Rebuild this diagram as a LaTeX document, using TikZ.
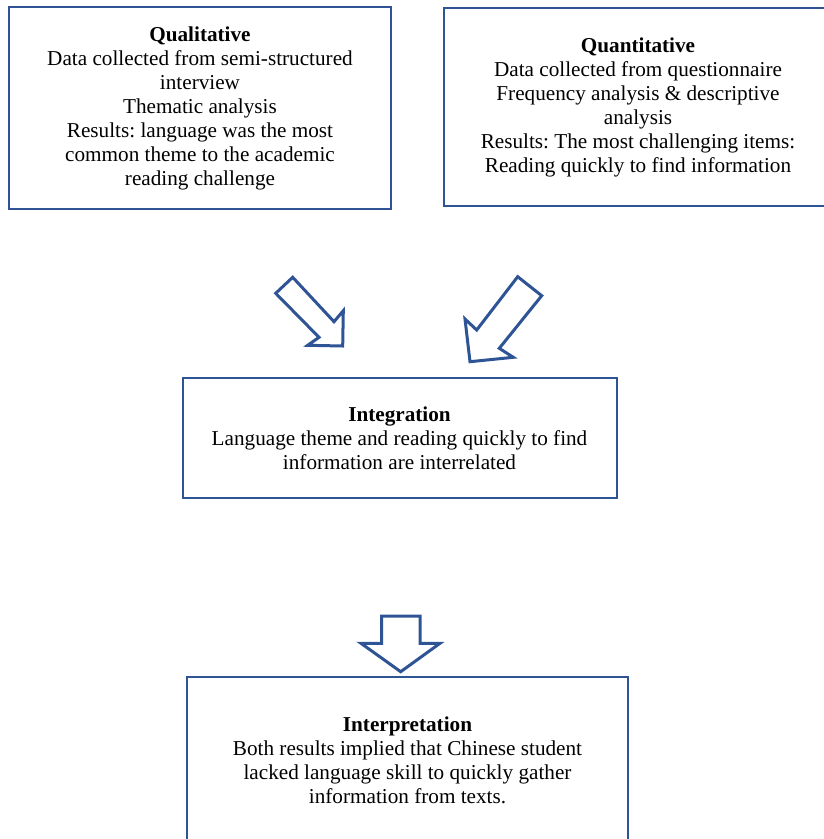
\documentclass[tikz,border=0pt]{standalone}
\usepackage{fontspec}
\setmainfont{Liberation Serif}
\usetikzlibrary{positioning}
\definecolor{boxblue}{RGB}{47,84,150}
\frenchspacing

\begin{document}
\begin{tikzpicture}[x=1pt, y=-1pt,
  box/.style={draw=boxblue, line width=2pt, align=center, inner sep=0pt,
              font=\fontsize{21.2}{24}\selectfont},
  fat/.style={draw=boxblue, line width=3pt, fill=white, line join=miter}]
\useasboundingbox (0,0) rectangle (824,839);

% the four boxes
\node[box, minimum width=382pt, minimum height=202pt] (qual) at (200,108.3)
  {\textbf{Qualitative}\\Data collected from semi-structured\\interview\\Thematic analysis\\
   Results: language was the most\\common theme to the academic\\reading challenge};
\node[box, minimum width=388pt, minimum height=198pt] (quan) at (638,107)
  {\textbf{Quantitative}\\Data collected from questionnaire\\Frequency analysis \& descriptive\\analysis\\
   Results: The most challenging items:\\Reading quickly to find information};
\node[box, minimum width=434pt, minimum height=120pt] (integ) at (399.5,438)
  {\textbf{Integration}\\Language theme and reading quickly to find\\information are interrelated};
\node[box, minimum width=441pt, minimum height=168pt] (interp) at (407.5,760.5)
  {\textbf{Interpretation}\\Both results implied that Chinese student\\lacked language skill to quickly gather\\
   information from texts.};

% block arrows
\draw[fat] (275.7,293.3) -- (292.7,277.3) -- (334,321.7) -- (343.3,310.7) -- (342.7,346)
  -- (307.7,345.3) -- (319,337.3) -- cycle;
\draw[fat] (517.7,276.7) -- (541.7,295.7) -- (499.3,348.3) -- (513.3,357.3) -- (470,361.7)
  -- (465,319) -- (476.7,330) -- cycle;
\draw[fat] (381.7,616) -- (420,616) -- (420,643.3) -- (440,643.3) -- (400.7,671.7)
  -- (361,643.3) -- (381.7,643.3) -- cycle;
\end{tikzpicture}
\end{document}
